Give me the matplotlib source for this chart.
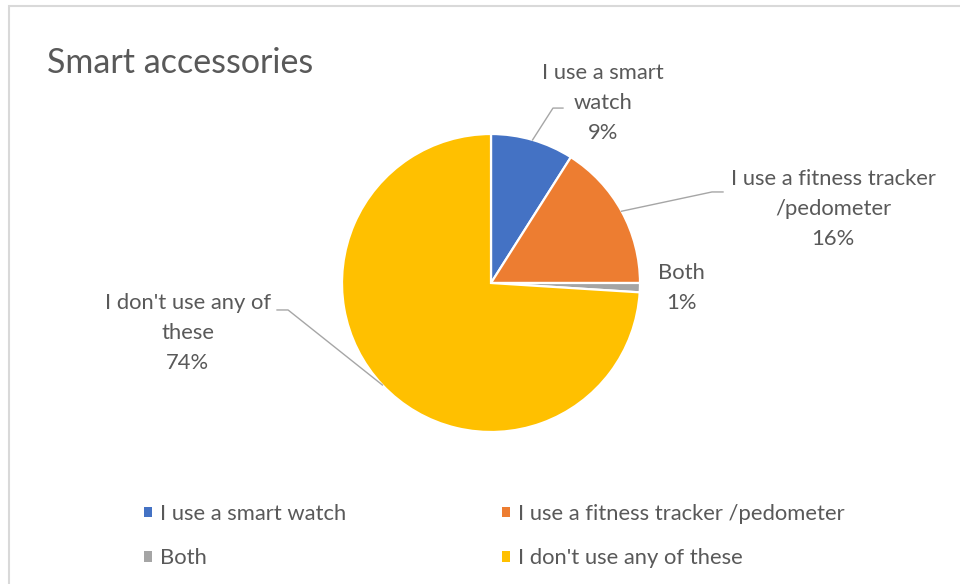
import numpy as np
import matplotlib
matplotlib.use('Agg')
import matplotlib.pyplot as plt
from matplotlib.patches import Rectangle

plt.rcParams['font.family'] = ['Lato', 'DejaVu Sans']

# Survey answers
categories = ['I use a smart watch', 'I use a fitness tracker /pedometer',
              'Both', "I don't use any of these"]
label_text = ['I use a smart\nwatch', 'I use a fitness tracker\n/pedometer',
              'Both', "I don't use any of\nthese"]
shares = [9, 16, 1, 74]
colors = ['#4472C4', '#ED7D31', '#A5A5A5', '#FFC000']

text_color = '#595959'
line_color = '#A6A6A6'

fig = plt.figure(figsize=(9.6, 5.84), dpi=100)

# light frame round the chart area
fig.patches.append(Rectangle((9 / 960, -0.05), 1.1, 1 - 6 / 584 + 0.05,
                             transform=fig.transFigure, fill=False,
                             edgecolor='#D9D9D9', linewidth=1.5))

fig.text(47 / 960, 1 - 63 / 584, 'Smart accessories', fontsize=24.5,
         color=text_color, va='center', ha='left')

# pie axes: centre (491, 283) px, radius 149 px
ax = fig.add_axes([342 / 960, (584 - 283 - 149) / 584, 298 / 960, 298 / 584])
wedges, _ = ax.pie(shares, startangle=90, counterclock=False, colors=colors,
                   radius=1.0,
                   wedgeprops=dict(edgecolor='white', linewidth=1.6))
ax.set_xlim(-1, 1)
ax.set_ylim(-1, 1)
ax.set_aspect('equal')
ax.axis('off')

# label placement: (elbow, line end, text centre) in data units, None = no leader
layout = [
    ((0.416, 1.174), (0.483, 1.174), (0.752, 1.208)),
    ((1.483, 0.611), (1.557, 0.611), (2.295, 0.495)),
    (None, None, (1.275, -0.035)),
    ((-1.362, -0.181), (-1.436, -0.181), (-2.034, -0.337)),
]

total = sum(shares)
cum = np.cumsum([0] + shares)
for i, (elbow, end, centre) in enumerate(layout):
    mid = (cum[i] + shares[i] / 2) / total * 2 * np.pi
    px, py = np.sin(mid), np.cos(mid)
    if elbow is not None:
        ax.plot([px, elbow[0], end[0]], [py, elbow[1], end[1]],
                color=line_color, linewidth=1.0, clip_on=False)
    pct = round(shares[i] / total * 100)
    ax.text(centre[0], centre[1], f'{label_text[i]}\n{pct}%', ha='center',
            va='center', fontsize=15.8, color=text_color, linespacing=1.62)

# legend in two columns, row-wise order
order = [0, 2, 1, 3]
leg = fig.legend([wedges[k] for k in order], [categories[k] for k in order],
                 ncol=2, loc='upper left',
                 bbox_to_anchor=(144 / 960, 1 - 504 / 584),
                 frameon=False, fontsize=15.8, handlelength=0.36,
                 handleheight=0.36, handletextpad=0.36, labelspacing=1.1,
                 columnspacing=7.1, borderpad=0, borderaxespad=0)
for t in leg.get_texts():
    t.set_color(text_color)
for h in leg.legend_handles:
    h.set_edgecolor('none')

fig.savefig('out.png', dpi=100, facecolor='white')
